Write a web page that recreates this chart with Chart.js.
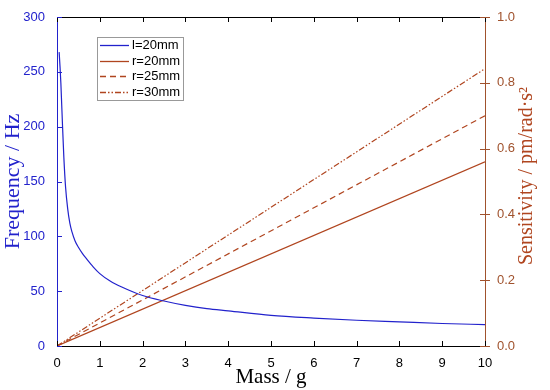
<!DOCTYPE html>
<html>
<head>
<meta charset="utf-8">
<script src="https://cdn.jsdelivr.net/npm/chart.js@4"></script>
<style>
  body { margin: 0; background: #ffffff; }
  #wrap { width: 550px; height: 390px; }
</style>
</head>
<body>
<div id="wrap"><canvas id="chart1"></canvas></div>
<script>
// frequency curve (l=20mm)
const massFreq = [0.05, 0.07, 0.09, 0.11, 0.13, 0.16, 0.2, 0.25, 0.3, 0.35, 0.42, 0.5, 0.6, 0.7, 0.85, 1, 1.25, 1.5, 2, 2.5, 3, 3.5, 4, 5, 6, 7, 8, 9, 10];
const freqL20 = [268, 255, 240, 220, 200, 172, 145, 125, 112, 104, 96, 90, 84, 79, 72, 66, 59, 54, 46, 41, 37, 34, 32, 28, 25.5, 23.5, 22, 20.5, 19.5];

// sensitivity lines
const massSens = [0, 10];
const sensR20 = [0, 0.56];
const sensR25 = [0, 0.70];
const sensR30 = [0, 0.843];

const legendLabels = ['l=20mm', 'r=20mm', 'r=25mm', 'r=30mm'];

const blue = '#2222cc';
const brown = '#b0451f';
const brownAxis = '#a0522d';

function pts(xs, ys) {
    return xs.map((x, i) => ({ x: x, y: ys[i] }));
}

// inward tick marks, frame on top, right title and legend box
const framePlugin = {
    id: 'frame',
    afterDraw(chart) {
        const c = chart.ctx;
        const a = chart.chartArea;
        const x = chart.scales.x, y = chart.scales.y, y2 = chart.scales.y2;
        c.save();
        c.lineWidth = 1;
        // top border
        c.strokeStyle = '#000';
        c.beginPath();
        c.moveTo(a.left, a.top + 0.5);
        c.lineTo(a.right, a.top + 0.5);
        c.stroke();
        // x ticks bottom and top
        x.ticks.forEach(t => {
            const px = Math.round(x.getPixelForValue(t.value)) + 0.5;
            c.beginPath();
            c.moveTo(px, a.bottom);
            c.lineTo(px, a.bottom - 5);
            c.moveTo(px, a.top);
            c.lineTo(px, a.top + 5);
            c.stroke();
        });
        // left ticks
        c.strokeStyle = blue;
        y.ticks.forEach(t => {
            const py = Math.round(y.getPixelForValue(t.value)) + 0.5;
            c.beginPath();
            c.moveTo(a.left, py);
            c.lineTo(a.left + 5, py);
            c.stroke();
        });
        // right ticks
        c.strokeStyle = brownAxis;
        y2.ticks.forEach(t => {
            const py = Math.round(y2.getPixelForValue(t.value)) + 0.5;
            c.beginPath();
            c.moveTo(a.right - 5, py);
            c.lineTo(a.right + 5, py);
            c.stroke();
        });
        // right title, reading bottom to top
        c.fillStyle = brown;
        c.font = '20px "Liberation Serif", "Times New Roman", serif';
        c.textAlign = 'center';
        c.textBaseline = 'middle';
        c.translate(527, 176);
        c.rotate(-Math.PI / 2);
        c.fillText('Sensitivity / pm/rad\u00b7s\u00b2', 0, 0);
        c.restore();

        // legend box inside the plot
        c.save();
        const lx = 97, ly = 37, lw = 86, lh = 63;
        c.strokeStyle = '#999';
        c.lineWidth = 1;
        c.fillStyle = '#fff';
        c.fillRect(lx + 0.5, ly + 0.5, lw, lh);
        c.strokeRect(lx + 0.5, ly + 0.5, lw, lh);
        c.font = '13px "Liberation Sans", Arial, sans-serif';
        c.textBaseline = 'middle';
        c.textAlign = 'left';
        chart.data.datasets.forEach((ds, i) => {
            const yy = Math.round(ly + 8 + i * 15.6) + 0.5;
            c.strokeStyle = ds.borderColor;
            c.lineWidth = 1.3;
            c.setLineDash(ds.borderDash || []);
            c.beginPath();
            c.moveTo(lx + 3, yy);
            c.lineTo(lx + 32, yy);
            c.stroke();
            c.setLineDash([]);
            c.fillStyle = '#000';
            c.fillText(legendLabels[i], lx + 35, yy);
        });
        c.restore();
    }
};

const ctx = document.getElementById('chart1').getContext('2d');
const myChart = new Chart(ctx, {
    type: 'line',
    data: {
        datasets: [
            {
                label: legendLabels[0],
                data: pts(massFreq, freqL20),
                yAxisID: 'y',
                borderColor: blue,
                borderWidth: 1.2,
                pointRadius: 0,
                cubicInterpolationMode: 'monotone',
                fill: false
            },
            {
                label: legendLabels[1],
                data: pts(massSens, sensR20),
                yAxisID: 'y2',
                borderColor: brown,
                borderWidth: 1.2,
                pointRadius: 0,
                fill: false
            },
            {
                label: legendLabels[2],
                data: pts(massSens, sensR25),
                yAxisID: 'y2',
                borderColor: brown,
                borderWidth: 1.2,
                borderDash: [6, 4],
                pointRadius: 0,
                fill: false
            },
            {
                label: legendLabels[3],
                data: pts(massSens, sensR30),
                yAxisID: 'y2',
                borderColor: brown,
                borderWidth: 1.2,
                borderDash: [6, 2, 1.5, 2, 1.5, 2],
                pointRadius: 0,
                fill: false
            }
        ]
    },
    options: {
        responsive: true,
        maintainAspectRatio: false,
        animation: false,
        layout: { padding: { top: 17, left: 0, right: 0, bottom: 0 } },
        plugins: {
            legend: { display: false },
            tooltip: { enabled: false }
        },
        scales: {
            x: {
                type: 'linear',
                min: 0,
                max: 10,
                ticks: {
                    stepSize: 1,
                    color: '#000',
                    padding: 2,
                    font: { family: '"Liberation Sans", Arial, sans-serif', size: 13 }
                },
                grid: { display: false },
                border: { display: true, color: '#000' },
                title: {
                    display: true,
                    text: 'Mass / g',
                    color: '#000',
                    padding: { top: -3, bottom: 0 },
                    font: { family: '"Liberation Serif", "Times New Roman", serif', size: 21 }
                },
                afterFit(scale) { scale.height = 44; }
            },
            y: {
                position: 'left',
                min: 0,
                max: 300,
                ticks: {
                    stepSize: 50,
                    color: blue,
                    padding: 4,
                    font: { family: '"Liberation Sans", Arial, sans-serif', size: 13 }
                },
                grid: { display: false },
                border: { display: true, color: blue },
                title: {
                    display: true,
                    text: 'Frequency / Hz',
                    color: blue,
                    padding: 0,
                    font: { family: '"Liberation Serif", "Times New Roman", serif', size: 22 }
                },
                afterFit(scale) { scale.width = 57; }
            },
            y2: {
                position: 'right',
                min: 0,
                max: 1,
                ticks: {
                    stepSize: 0.2,
                    color: brownAxis,
                    padding: 4,
                    font: { family: '"Liberation Sans", Arial, sans-serif', size: 13 },
                    callback: v => v.toFixed(1)
                },
                grid: { display: false },
                border: { display: true, color: brownAxis },
                afterFit(scale) { scale.width = 65; }
            }
        }
    },
    plugins: [framePlugin]
});
</script>
</body>
</html>
